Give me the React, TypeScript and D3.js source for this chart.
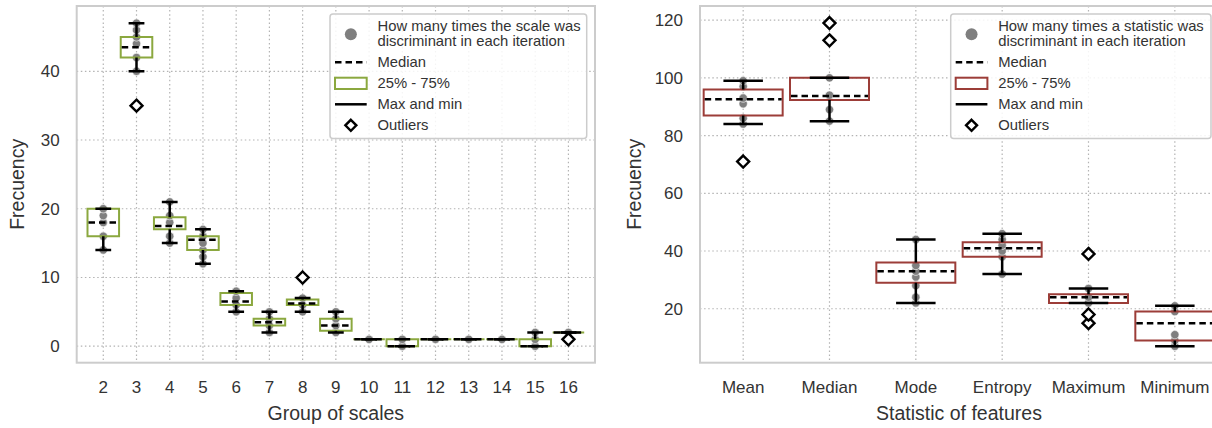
import React from "react";
import * as d3 from "d3";

// ---- Left panel: discriminant counts per group of scales ----
const scales = ["2", "3", "4", "5", "6", "7", "8", "9", "10", "11", "12", "13", "14", "15", "16"];
const scaleMin = [14, 40, 15, 12, 5, 2, 5, 2, 1, 0, 1, 1, 1, 0, 2];
const scaleQ1 = [16, 42, 17, 14, 6, 3, 6, 2.25, 1, 0, 1, 1, 1, 0, 2];
const scaleMedian = [18, 43.5, 17.5, 15.5, 6.5, 3.5, 6.2, 3, 1, 0, 1, 1, 1, 0, 2];
const scaleQ3 = [20, 45, 18.75, 16, 7.75, 4, 6.8, 4, 1, 1, 1, 1, 1, 1, 2];
const scaleMax = [20, 47, 21, 17, 8, 5, 7, 5, 1, 1, 1, 1, 1, 2, 2];
const scaleOutliers = [[], [35], [], [], [], [], [10], [], [], [], [], [], [], [], [1]];
const scalePoints = [
  [14, 16, 18, 19, 20],
  [40, 42, 44, 45, 46, 47],
  [15, 16, 18, 19, 21],
  [12, 13, 14, 15, 16, 17],
  [5, 6, 7, 8],
  [2, 3, 4, 5],
  [5, 6, 7],
  [2, 3, 4, 5],
  [1],
  [0, 1],
  [1],
  [1],
  [1],
  [0, 1, 2],
  [2],
];
const leftTicks = [0, 10, 20, 30, 40];

// ---- Right panel: discriminant counts per statistic ----
const stats = ["Mean", "Median", "Mode", "Entropy", "Maximum", "Minimum"];
const statMin = [84, 85, 22, 32, 22, 7];
const statQ1 = [87, 92.3, 29, 38, 22, 9];
const statMedian = [92.6, 93.7, 33, 41, 24, 15];
const statQ3 = [96, 100, 36, 43, 25, 19];
const statMax = [99, 100, 44, 46, 27, 21];
const statOutliers = [[71], [113, 119], [], [], [15, 18, 39], []];
const statPoints = [
  [84, 86, 91, 93, 97, 99],
  [85, 89, 94, 100],
  [22, 24, 28, 31, 33, 35, 44],
  [32, 38, 40, 42, 44, 46],
  [22, 24, 27],
  [7, 9, 11, 19, 21],
];
const rightTicks = [20, 40, 60, 80, 100, 120];

const FONT = "'Liberation Sans', Arial, Helvetica, sans-serif";
const TEXT = "#333333";
const GREEN = "#8ba83f";
const RED = "#9c3d38";

type PanelProps = {
  cats: string[];
  mins: number[];
  q1s: number[];
  meds: number[];
  q3s: number[];
  maxs: number[];
  outliers: number[][];
  points: number[][];
  ticks: number[];
  x0: number;
  x1: number;
  yDomain: [number, number];
  band: boolean;
  boxFrac: number;
  boxColor: string;
  xLabel: string;
  yLabelX: number;
  legendX: number;
  legendW: number;
  legendFirst: string;
};

const TOP = 6;
const BOTTOM = 362.7;

function Diamond({ cx, cy, r }: { cx: number; cy: number; r: number }) {
  return (
    <path
      d={`M${cx},${cy - r}L${cx + r},${cy}L${cx},${cy + r}L${cx - r},${cy}Z`}
      fill="#fff"
      stroke="#000"
      strokeWidth={2.4}
    />
  );
}

function Panel(p: PanelProps) {
  const y = d3.scaleLinear().domain(p.yDomain).range([BOTTOM, TOP]);
  let cx: (c: string) => number;
  let step: number;
  if (p.band) {
    const xb = d3.scaleBand<string>().domain(p.cats).range([p.x0, p.x1]).padding(0);
    step = xb.step();
    cx = (c) => (xb(c) as number) + xb.bandwidth() / 2;
  } else {
    const xp = d3.scalePoint<string>().domain(p.cats).range([p.x0, p.x1]).padding(0.8);
    step = xp.step();
    cx = (c) => xp(c) as number;
  }
  const bw = step * p.boxFrac;
  // caps span half the box width
  const capHalf = bw / 4;
  const lx = p.legendX;
  const hx0 = lx + 5;
  const hx1 = lx + 36.7;
  const hcx = (hx0 + hx1) / 2;
  const tx = lx + 47.5;
  const clipId = `clip-${p.x0}`;

  // outline as a path so that collapsed (zero-height) boxes still show as a line
  const boxPath = (c: string, i: number) => {
    const xl = cx(c) - bw / 2;
    const yt = y(p.q3s[i]);
    const h = y(p.q1s[i]) - yt;
    return `M${xl},${yt}h${bw}v${h}h${-bw}Z`;
  };

  return (
    <g fontFamily={FONT}>
      <defs>
        <clipPath id={clipId}>
          <rect x={p.x0} y={TOP} width={p.x1 - p.x0} height={BOTTOM - TOP} />
        </clipPath>
      </defs>
      {/* grid */}
      <g stroke="#b3b3b3" strokeWidth={1.2} strokeDasharray="1.5,2.6">
        {p.ticks.map((t) => (
          <line key={`h${t}`} x1={p.x0} x2={p.x1} y1={y(t)} y2={y(t)} />
        ))}
        {p.cats.map((c) => (
          <line key={`v${c}`} x1={cx(c)} x2={cx(c)} y1={TOP} y2={BOTTOM} />
        ))}
      </g>
      {/* frame */}
      <rect x={p.x0} y={TOP} width={p.x1 - p.x0} height={BOTTOM - TOP} fill="none" stroke="#cccccc" strokeWidth={2} />

      <g clipPath={`url(#${clipId})`}>
        {/* observations */}
        {p.cats.map((c, i) =>
          p.points[i].map((v, j) => (
            <circle key={`p${c}-${j}`} cx={cx(c)} cy={y(v)} r={4.2} fill="#7f7f7f" stroke="#ffffff" strokeOpacity={0.7} strokeWidth={0.9} />
          ))
        )}
        {/* boxes */}
        {p.cats.map((c, i) => (
          <path key={`b${c}`} d={boxPath(c, i)} fill="none" stroke={p.boxColor} strokeWidth={2} />
        ))}
        {/* whiskers and caps */}
        {p.cats.map((c, i) => (
          <g key={`w${c}`} stroke="#000" strokeWidth={2.5}>
            <line x1={cx(c)} x2={cx(c)} y1={y(p.q3s[i])} y2={y(p.maxs[i])} />
            <line x1={cx(c)} x2={cx(c)} y1={y(p.q1s[i])} y2={y(p.mins[i])} />
            <line x1={cx(c) - capHalf} x2={cx(c) + capHalf} y1={y(p.maxs[i])} y2={y(p.maxs[i])} />
            <line x1={cx(c) - capHalf} x2={cx(c) + capHalf} y1={y(p.mins[i])} y2={y(p.mins[i])} />
          </g>
        ))}
        {/* medians */}
        {p.cats.map((c, i) => (
          <line
            key={`m${c}`}
            x1={cx(c) - bw / 2 + 1}
            x2={cx(c) + bw / 2 - 1}
            y1={y(p.meds[i])}
            y2={y(p.meds[i])}
            stroke="#000"
            strokeWidth={2.5}
            strokeDasharray="6.5,4"
          />
        ))}
        {/* outliers */}
        {p.cats.map((c, i) =>
          p.outliers[i].map((v, j) => <Diamond key={`o${c}-${j}`} cx={cx(c)} cy={y(v)} r={6} />)
        )}
      </g>

      {/* y tick labels */}
      {p.ticks.map((t) => (
        <text key={`yt${t}`} x={p.x0 - 17} y={y(t)} dy="0.35em" textAnchor="end" fontSize={17} fill={TEXT}>
          {t}
        </text>
      ))}
      {/* x tick labels */}
      {p.cats.map((c) => (
        <text key={`xt${c}`} x={cx(c)} y={393.3} textAnchor="middle" fontSize={17} fill={TEXT}>
          {c}
        </text>
      ))}
      {/* axis titles */}
      <text x={(p.x0 + p.x1) / 2} y={420} textAnchor="middle" fontSize={19.5} fill={TEXT}>
        {p.xLabel}
      </text>
      <text
        transform={`translate(${p.yLabelX},${(TOP + BOTTOM) / 2}) rotate(-90)`}
        dy="0.35em"
        textAnchor="middle"
        fontSize={19.5}
        fill={TEXT}
      >
        Frecuency
      </text>

      {/* legend */}
      <g>
        <rect x={lx} y={14} width={p.legendW} height={124.5} rx={3} fill="#ffffff" fillOpacity={0.85} stroke="#cccccc" strokeWidth={1.5} />
        <circle cx={hcx} cy={34.3} r={6} fill="#7f7f7f" />
        <line x1={hx0} x2={hx1} y1={62.3} y2={62.3} stroke="#000" strokeWidth={2.5} strokeDasharray="6.5,4" />
        <rect x={hx0} y={77.7} width={hx1 - hx0} height={11.3} fill="none" stroke={p.boxColor} strokeWidth={2} />
        <line x1={hx0} x2={hx1} y1={104.3} y2={104.3} stroke="#000" strokeWidth={2.5} />
        <Diamond cx={hcx} cy={125.3} r={5.5} />
        <g fontSize={14.8} fill={TEXT}>
          <text x={tx} y={31}>{p.legendFirst}</text>
          <text x={tx} y={46.2}>discriminant in each iteration</text>
          <text x={tx} y={67}>Median</text>
          <text x={tx} y={88}>25% - 75%</text>
          <text x={tx} y={109.2}>Max and min</text>
          <text x={tx} y={130.2}>Outliers</text>
        </g>
      </g>
    </g>
  );
}

export default function App() {
  return (
    <svg
      width={1212}
      height={428}
      style={{ position: "absolute", left: 0, top: 0, background: "#fff" }}
    >
      <rect width={1212} height={428} fill="#fff" />
      <Panel
        cats={scales}
        mins={scaleMin}
        q1s={scaleQ1}
        meds={scaleMedian}
        q3s={scaleQ3}
        maxs={scaleMax}
        outliers={scaleOutliers}
        points={scalePoints}
        ticks={leftTicks}
        x0={76.7}
        x1={595}
        yDomain={[-2.4, 49.5]}
        band={false}
        boxFrac={0.95}
        boxColor={GREEN}
        xLabel="Group of scales"
        yLabelX={17}
        legendX={330}
        legendW={256.7}
        legendFirst="How many times the scale was"
      />
      <Panel
        cats={stats}
        mins={statMin}
        q1s={statQ1}
        meds={statMedian}
        q3s={statQ3}
        maxs={statMax}
        outliers={statOutliers}
        points={statPoints}
        ticks={rightTicks}
        x0={700}
        x1={1218}
        yDomain={[1.3, 124.9]}
        band={true}
        boxFrac={0.915}
        boxColor={RED}
        xLabel="Statistic of features"
        yLabelX={634}
        legendX={950.7}
        legendW={260.3}
        legendFirst="How many times a statistic was"
      />
    </svg>
  );
}
